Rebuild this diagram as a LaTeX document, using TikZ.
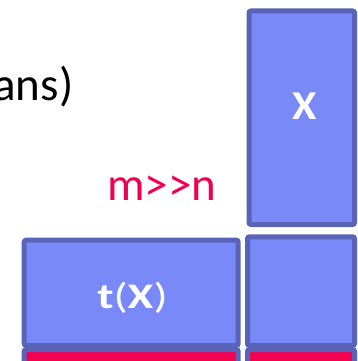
\documentclass[tikz,border=0pt]{standalone}
\usepackage{fontspec}
\setmainfont{Carlito}
\definecolor{blkfill}{RGB}{121,138,248}
\definecolor{blkline}{RGB}{89,99,184}
\definecolor{redfill}{RGB}{246,0,82}
\definecolor{mnred}{RGB}{240,0,80}
\tikzset{blk/.style={draw=blkline, fill=blkfill, line width=5pt, rounded corners=2pt, inner sep=0pt},
redblk/.style={blk, fill=redfill},
inlbl/.style={text=white, inner sep=0pt, anchor=base},
txt/.style={inner sep=0pt, font=\fontsize{47}{47}\selectfont}}

\begin{document}
\begin{tikzpicture}[x=1pt, y=-1pt]
\useasboundingbox (0,0) rectangle (357,361);
\node[blk, minimum width=105.5pt, minimum height=213.5pt] (xb) at (301.75,117.75) {};
\node[blk, minimum width=214pt, minimum height=105.3pt] (txb) at (131.2,292.85) {};
\node[blk, minimum width=107pt, minimum height=108.7pt] (sqb) at (301,291.15) {};
\node[redblk, minimum width=214pt, minimum height=40pt] (txr) at (131.2,369.5) {};
\node[redblk, minimum width=107pt, minimum height=40pt] (sqr) at (301,369.5) {};

\node[inlbl, font=\bfseries\fontsize{41}{41}\selectfont] (xl) at (305,119.5) {\scalebox{1.08}[1]{X}};
\node[inlbl, font=\fontsize{36}{36}\selectfont] (tl) at (132.5,308.5) {\scalebox{1.3}[1]{\textbf{t}(\textbf{X})}};
\node[txt, text=mnred, anchor=base west] (mn) at (107,200) {m>{}>n};
\node[txt, anchor=base east] (ans) at (73.5,100) {ans)};
\end{tikzpicture}
\end{document}
